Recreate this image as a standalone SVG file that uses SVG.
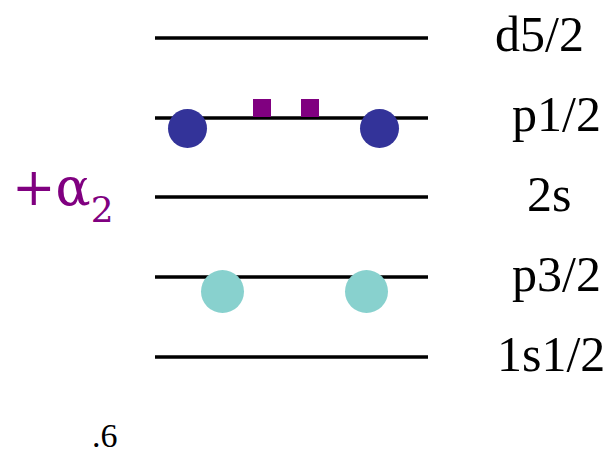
<svg xmlns="http://www.w3.org/2000/svg" width="612" height="455" viewBox="0 0 612 455">
<style>
.lvl{stroke:#000;stroke-width:3.5}
.lbl{font-family:'Liberation Serif','Times New Roman','DejaVu Serif',serif;font-size:50px;fill:#000}
.blue{fill:#333399}
.cyan{fill:#88d1ce}
.sq{fill:#800080}
</style>
<rect width="612" height="455" fill="#fff"/>
<g id="levels">
<line class="lvl" x1="155" y1="38" x2="428" y2="38"/>
<line class="lvl" x1="155" y1="118" x2="428" y2="118"/>
<line class="lvl" x1="155" y1="197" x2="428" y2="197"/>
<line class="lvl" x1="155" y1="277" x2="428" y2="277"/>
<line class="lvl" x1="155" y1="357" x2="428" y2="357"/>
</g>
<g id="labels">
<text class="lbl" x="495" y="51">d5/2</text>
<text class="lbl" x="512" y="131">p1/2</text>
<text class="lbl" x="527" y="211">2s</text>
<text class="lbl" x="512" y="291">p3/2</text>
<text class="lbl" x="497" y="371">1s1/2</text>
</g>
<g id="particles">
<circle class="blue" cx="187.5" cy="128.5" r="19.5"/>
<circle class="blue" cx="379.5" cy="128.5" r="19.5"/>
<rect class="sq" x="253" y="99" width="18" height="18"/>
<rect class="sq" x="301" y="99" width="18" height="18"/>
<circle class="cyan" cx="222.5" cy="291.5" r="21.5"/>
<circle class="cyan" cx="366.5" cy="291.5" r="21.5"/>
</g>
<g id="alpha">
<text x="12" y="205" font-family="'DejaVu Serif',serif" font-size="52" fill="#800080">+α<tspan font-size="36" dy="17">2</tspan></text>
</g>
<text x="92" y="447" font-family="'Liberation Serif',serif" font-size="34" fill="#000">.6</text>
</svg>
